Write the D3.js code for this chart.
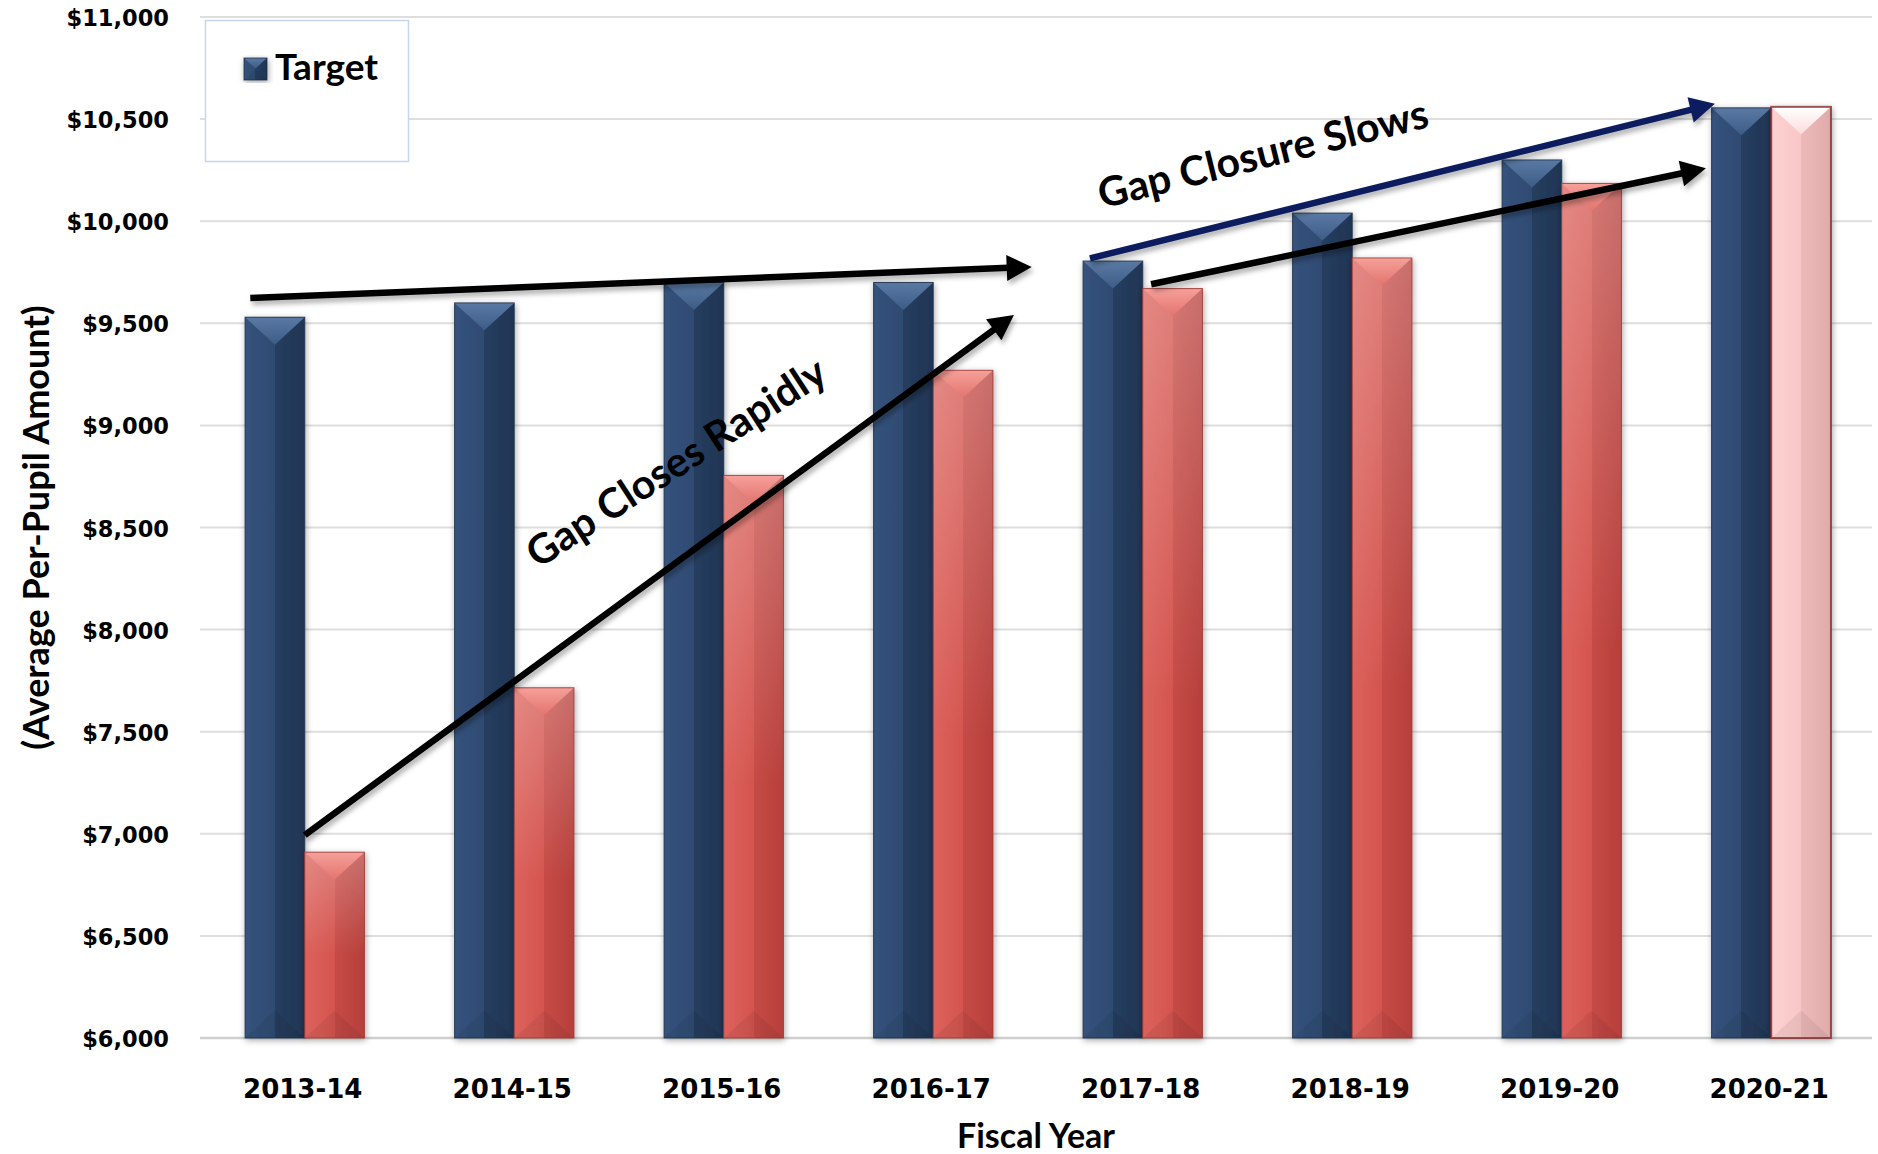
<!DOCTYPE html>
<html>
<head>
<meta charset="utf-8">
<script src="https://cdn.jsdelivr.net/npm/d3@7"></script>
<style>
  body { margin: 0; background: #fff; }
  svg text { font-family: Lato, "Open Sans", "DejaVu Sans", sans-serif; fill: #000; }
  svg text.num { font-family: "DejaVu Sans", Lato, sans-serif; }
</style>
</head>
<body>
<svg id="chart" width="1878" height="1154"></svg>
<script>
// values
var years = ["2013-14", "2014-15", "2015-16", "2016-17", "2017-18", "2018-19", "2019-20", "2020-21"];
var target = [9530, 9600, 9700, 9700, 9805, 10040, 10300, 10555];
var actual = [6910, 7715, 8755, 9270, 9670, 9820, 10185, 10560];
var yTicks = d3.range(6000, 11001, 500);
var legendLabel = "Target";

// annotation arrows, in [group offset, dollar value]
var arrows = [
  {from: [-0.26, 9624], to: [3.47, 9776], dark: true},
  {from: [0.0, 6994], to: [3.385, 9541], dark: true},
  {from: [3.748, 9818], to: [6.731, 10575], dark: false},
  {from: [4.04, 9691], to: [6.688, 10259], dark: true}
];
var notes = [
  {text: "Gap Closes Rapidly", at: [1.81, 8760], angle: -33},
  {text: "Gap Closure Slows", at: [4.59, 10262], angle: -14}
];

var W = 1878, H = 1154;
var margin = {top: 17, right: 2, bottom: 116, left: 200};

var svg = d3.select("#chart");
var defs = svg.append("defs");

var x0 = d3.scaleBand()
    .domain(years)
    .range([margin.left, W - margin.right])
    .paddingInner(0.43)
    .paddingOuter(0.215);

var x1 = d3.scaleBand()
    .domain(["target", "actual"])
    .range([0, x0.bandwidth()]);

var y = d3.scaleLinear()
    .domain([6000, 11000])
    .range([H - margin.bottom, margin.top]);

function xPos(u) {
  return x0(years[0]) + x0.bandwidth() / 2 + u * x0.step();
}

// bar looks: side gradient (two halves), top bevel, outline
var looks = {
  navy: {side: ["#35527c", "#2f4b72", "#263e5f", "#1f3554"], top: ["#5a79a4", "#3d5c86"], stroke: "#1c2f4a", sw: 1, gloss: 0},
  red:  {side: ["#dc625c", "#d4554f", "#c64b46", "#b63f3b"], top: ["#f6a09a", "#e4746e"], stroke: "#9a3531", sw: 1, gloss: 0.22},
  pink: {side: ["#fdd2d2", "#f9c6c6", "#edbaba", "#dfaaaa"], top: ["#ffffff", "#fbdcdc"], stroke: "#8a2a2a", sw: 2, gloss: 0}
};

Object.keys(looks).forEach(function(k) {
  var L = looks[k];
  var g = defs.append("linearGradient").attr("id", "side-" + k)
      .attr("x1", 0).attr("x2", 1).attr("y1", 0).attr("y2", 0);
  [[0, L.side[0]], [0.5, L.side[1]], [0.5, L.side[2]], [1, L.side[3]]].forEach(function(s) {
    g.append("stop").attr("offset", s[0]).attr("stop-color", s[1]);
  });
  var t = defs.append("linearGradient").attr("id", "top-" + k)
      .attr("x1", 0).attr("x2", 0).attr("y1", 0).attr("y2", 1);
  t.append("stop").attr("offset", 0).attr("stop-color", L.top[0]);
  t.append("stop").attr("offset", 1).attr("stop-color", L.top[1]);
});

var gloss = defs.append("linearGradient").attr("id", "gloss")
    .attr("x1", 0).attr("x2", 0).attr("y1", 0).attr("y2", 1);
gloss.append("stop").attr("offset", 0).attr("stop-color", "#fff").attr("stop-opacity", 0.25);
gloss.append("stop").attr("offset", 0.55).attr("stop-color", "#fff").attr("stop-opacity", 0);

var shadow = defs.append("filter").attr("id", "shadow")
    .attr("x", "-30%").attr("y", "-10%").attr("width", "160%").attr("height", "120%");
shadow.append("feDropShadow").attr("dx", 1).attr("dy", 2).attr("stdDeviation", 3)
    .attr("flood-color", "#000").attr("flood-opacity", 0.35);

var arrowShadow = defs.append("filter").attr("id", "arrowShadow")
    .attr("x", "-10%").attr("y", "-30%").attr("width", "120%").attr("height", "160%");
arrowShadow.append("feDropShadow").attr("dx", 2).attr("dy", 4).attr("stdDeviation", 2.5)
    .attr("flood-color", "#000").attr("flood-opacity", 0.3);

// gridlines
svg.append("g")
  .selectAll("line")
  .data(yTicks)
  .join("line")
    .attr("x1", margin.left)
    .attr("x2", W - 6)
    .attr("y1", function(d) { return y(d); })
    .attr("y2", function(d) { return y(d); })
    .attr("stroke", function(d) { return d === 6000 ? "#cfcfcf" : "#dedede"; })
    .attr("stroke-width", function(d) { return d === 6000 ? 2.5 : 2; });

// y tick labels
svg.append("g")
  .selectAll("text")
  .data(yTicks)
  .join("text")
    .attr("class", "num")
    .attr("x", margin.left - 31)
    .attr("y", function(d) { return y(d) + 1; })
    .attr("text-anchor", "end")
    .attr("dominant-baseline", "central")
    .style("font-size", "22.5px")
    .style("font-weight", 700)
    .text(function(d) { return "$" + d3.format(",")(d); });

// legend box
var legend = svg.append("g");
legend.append("rect")
    .attr("x", 205.5).attr("y", 20.5).attr("width", 203).attr("height", 141)
    .attr("fill", "#fff").attr("stroke", "#c6d6ec").attr("stroke-width", 1.5);

function bevelBar(g, x, yTop, w, h, kind) {
  var L = looks[kind];
  var d = Math.min(w * 0.46, h / 2);
  g.append("rect")
      .attr("x", x).attr("y", yTop).attr("width", w).attr("height", h)
      .attr("fill", "url(#side-" + kind + ")");
  if (L.gloss) {
    g.append("rect")
        .attr("x", x).attr("y", yTop).attr("width", w).attr("height", h)
        .attr("fill", "url(#gloss)");
  }
  g.append("path")
      .attr("d", "M" + x + "," + yTop + "L" + (x + w) + "," + yTop + "L" + (x + w / 2) + "," + (yTop + d) + "Z")
      .attr("fill", "url(#top-" + kind + ")");
  g.append("path")
      .attr("d", "M" + x + "," + (yTop + h) + "L" + (x + w / 2) + "," + (yTop + h - d) + "L" + (x + w) + "," + (yTop + h) + "Z")
      .attr("fill", "#000").attr("fill-opacity", 0.06);
  g.append("rect")
      .attr("x", x).attr("y", yTop).attr("width", w).attr("height", h)
      .attr("fill", "none").attr("stroke", L.stroke).attr("stroke-width", L.sw)
      .attr("stroke-opacity", 0.8);
}

// bars
var rows = years.map(function(yr, i) {
  return {year: yr, i: i, target: target[i], actual: actual[i]};
});

var groups = svg.append("g")
  .selectAll("g")
  .data(rows)
  .join("g")
    .attr("transform", function(d) { return "translate(" + x0(d.year) + ",0)"; });

groups.each(function(d) {
  var g = d3.select(this);
  var last = d.i === years.length - 1;
  [["target", d.target, "navy"], ["actual", d.actual, last ? "pink" : "red"]].forEach(function(s) {
    var bg = g.append("g").attr("filter", "url(#shadow)");
    bevelBar(bg, x1(s[0]), y(s[1]), x1.bandwidth(), y(6000) - y(s[1]), s[2]);
  });
});

// legend content
var lg = legend.append("g").attr("filter", "url(#shadow)");
bevelBar(lg, 244, 58, 23, 22, "navy");
legend.append("text")
    .attr("x", 275).attr("y", 80)
    .style("font-size", "37px")
    .style("font-weight", 700)
    .text(legendLabel);

// x labels
svg.append("g")
  .selectAll("text")
  .data(years)
  .join("text")
    .attr("class", "num")
    .attr("x", function(d) { return x0(d) + x0.bandwidth() / 2 - 2; })
    .attr("y", 1098)
    .attr("text-anchor", "middle")
    .style("font-size", "26px")
    .style("font-weight", 700)
    .text(function(d) { return d; });

// axis titles
svg.append("text")
    .attr("x", (margin.left + W - margin.right) / 2 - 2)
    .attr("y", 1148)
    .attr("text-anchor", "middle")
    .style("font-size", "34px")
    .style("font-weight", 700)
    .text("Fiscal Year");

svg.append("text")
    .attr("transform", "translate(35," + (y(8500)) + ") rotate(-90)")
    .attr("text-anchor", "middle")
    .attr("dominant-baseline", "central")
    .style("font-size", "36px")
    .style("font-weight", 700)
    .text("(Average Per-Pupil Amount)");

// arrows
var ag = svg.append("g");
arrows.forEach(function(a) {
  var xa = xPos(a.from[0]), ya = y(a.from[1]);
  var xb = xPos(a.to[0]), yb = y(a.to[1]);
  var ang = Math.atan2(yb - ya, xb - xa);
  var headL = 25, headW = 13;
  var color = a.dark ? "#000" : "#0b1f5e";
  var bx = xb - headL * Math.cos(ang), by = yb - headL * Math.sin(ang);
  var g = ag.append("g").attr("filter", "url(#arrowShadow)");
  g.append("line")
      .attr("x1", xa).attr("y1", ya).attr("x2", bx + 2 * Math.cos(ang)).attr("y2", by + 2 * Math.sin(ang))
      .attr("stroke", color).attr("stroke-width", 6.5);
  var px = -Math.sin(ang) * headW, py = Math.cos(ang) * headW;
  g.append("path")
      .attr("d", "M" + xb + "," + yb + "L" + (bx + px) + "," + (by + py) + "L" + (bx - px) + "," + (by - py) + "Z")
      .attr("fill", color);
});

// notes
svg.append("g")
  .selectAll("text")
  .data(notes)
  .join("text")
    .attr("transform", function(d) {
      return "translate(" + xPos(d.at[0]) + "," + y(d.at[1]) + ") rotate(" + d.angle + ")";
    })
    .attr("text-anchor", "middle")
    .style("font-size", "41px")
    .style("font-weight", 700)
    .text(function(d) { return d.text; });
</script>
</body>
</html>
